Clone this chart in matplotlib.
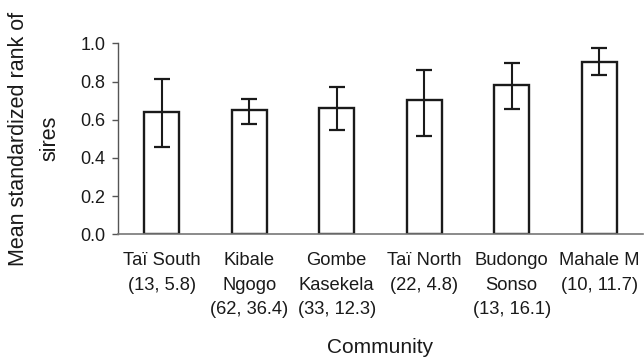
import matplotlib
matplotlib.use("Agg")
import matplotlib.pyplot as plt
import numpy as np

plt.rcParams['font.family'] = ['Liberation Sans', 'DejaVu Sans']

communities = ["Taï South\n(13, 5.8)", "Kibale\nNgogo\n(62, 36.4)", "Gombe\nKasekela\n(33, 12.3)",
               "Taï North\n(22, 4.8)", "Budongo\nSonso\n(13, 16.1)", "Mahale M\n(10, 11.7)"]
means = [0.639, 0.651, 0.660, 0.703, 0.780, 0.904]
err_upper = [0.813, 0.710, 0.771, 0.860, 0.897, 0.974]
err_lower = [0.457, 0.579, 0.545, 0.516, 0.658, 0.832]
yticks = [0.0, 0.2, 0.4, 0.6, 0.8, 1.0]

fig = plt.figure(figsize=(6.44, 3.62), dpi=100)
ax = fig.add_axes([118/644, 1-234.3/362, 525/644, (234.3-43.3)/362])

x = np.arange(len(means))
means_a = np.array(means)
yerr = np.vstack([means_a - np.array(err_lower), np.array(err_upper) - means_a])
ax.bar(x, means, width=0.4, color='white', edgecolor='#1a1a1a', linewidth=1.7, zorder=2)
ax.errorbar(x, means, yerr=yerr, fmt='none', ecolor='#1a1a1a', elinewidth=1.5,
            capsize=6, capthick=1.6, zorder=3)

ax.set_xlim(-0.5, 5.5)
ax.set_ylim(0, 1.0)
ax.set_yticks(yticks)
ax.set_yticklabels([f"{v:.1f}" for v in yticks], fontsize=13, color='#1a1a1a')
ax.set_xticks(x)
ax.set_xticklabels(communities, fontsize=13.2, color='#1a1a1a', linespacing=1.55)
ax.tick_params(axis='x', length=0, pad=13)
ax.tick_params(axis='y', length=4.5, width=1, color='#555555', pad=4.5)

for s in ['top', 'right']:
    ax.spines[s].set_visible(False)
ax.spines['left'].set_color('#555555')
ax.spines['bottom'].set_color('#777777')
ax.spines['left'].set_linewidth(1.0)
ax.spines['bottom'].set_linewidth(1.2)

fig.text(380/644, 1-353/362, "Community", fontsize=15, ha='center', va='baseline', color='#1a1a1a')
fig.text(60/644, 1-138.8/362, "Mean standardized rank of\nsires", fontsize=15.5, rotation=90,
         ha='right', va='center', multialignment='center', linespacing=1.65, color='#1a1a1a')

fig.savefig("out.png", dpi=100)
